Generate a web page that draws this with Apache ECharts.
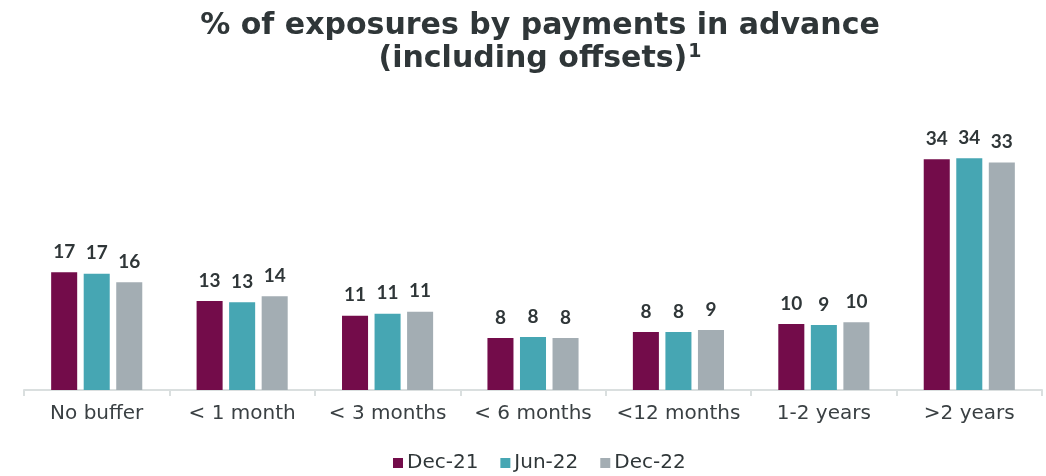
<!DOCTYPE html>
<html>
<head>
<meta charset="utf-8">
<script src="https://cdn.jsdelivr.net/npm/echarts@6/dist/echarts.min.js"></script>
<style>html,body{margin:0;padding:0;background:#fff;}#c{width:1046px;height:476px;}</style>
</head>
<body>
<div id="c"></div>
<script>
const categories = ['No buffer', '< 1 month', '< 3 months', '< 6 months', '<12 months', '1-2 years', '>2 years'];
const seriesNames = ['Dec-21', 'Jun-22', 'Dec-22'];
const dec21 = [17.13, 12.95, 10.82, 7.57, 8.45, 9.61, 33.58];
const jun22 = [16.93, 12.77, 11.11, 7.71, 8.44, 9.45, 33.73];
const dec22 = [15.68, 13.64, 11.40, 7.57, 8.73, 9.85, 33.1];
const colors = ['#730c4a', '#46a6b3', '#a3adb3'];

const chart = echarts.init(document.getElementById('c'));
const labelStyle = {
  show: true, position: 'top', distance: 11,
  fontFamily: 'Lato', fontWeight: 'bold', fontSize: 19, color: '#2f3638',
  formatter: p => Math.round(p.value)
};
function mk(name, data, color) {
  return {
    name, type: 'bar', data, barWidth: '17.9%', barGap: '25%',
    itemStyle: { color }, label: labelStyle
  };
}
chart.setOption({
  animation: false,
  title: {
    text: '% of exposures by payments in advance\n(including offsets){sup|1}',
    left: 535, textAlign: 'center', top: 5,
    textStyle: {
      fontFamily: 'DejaVu Sans', fontWeight: 'bold', fontSize: 30, color: '#2f3638', lineHeight: 33,
      rich: { sup: { fontFamily: 'DejaVu Sans', fontWeight: 'bold', fontSize: 19, color: '#2f3638', verticalAlign: 'top', lineHeight: 33, padding: [0, 0, 12, 1] } }
    }
  },
  legend: {
    data: seriesNames, bottom: -2, left: 388, itemWidth: 10, itemHeight: 10, itemGap: 22,
    icon: 'rect',
    textStyle: { fontFamily: 'DejaVu Sans', fontSize: 20, color: '#2f3638', padding: [0, 0, 0, -1] }
  },
  grid: { left: 24, right: 4, top: 115.2, bottom: 86, containLabel: false },
  xAxis: {
    type: 'category', data: categories,
    axisLine: { lineStyle: { color: '#dadfdf', width: 2 } },
    axisTick: { show: true, length: 6, lineStyle: { color: '#dadfdf', width: 2 } },
    axisLabel: { interval: 0, fontFamily: 'DejaVu Sans', fontSize: 20, color: '#3a4043', margin: 14 }
  },
  yAxis: { type: 'value', min: 0, max: 40, show: false, splitLine: { show: false } },
  series: [mk(seriesNames[0], dec21, colors[0]), mk(seriesNames[1], jun22, colors[1]), mk(seriesNames[2], dec22, colors[2])]
});
</script>
</body>
</html>
